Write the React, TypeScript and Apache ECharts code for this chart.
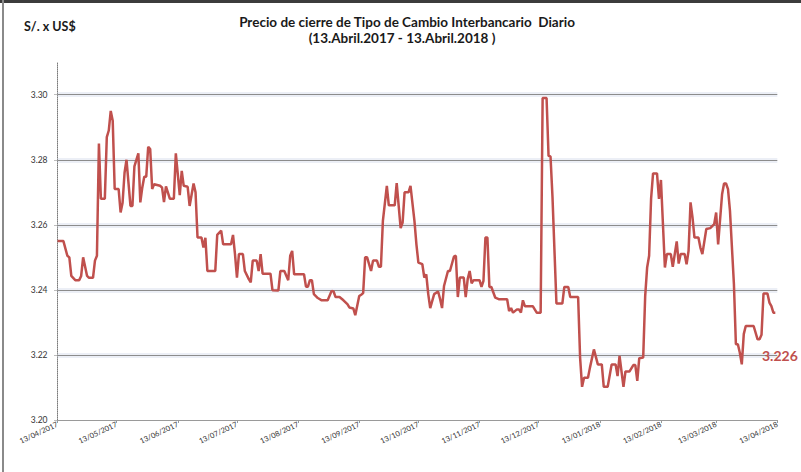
import React, { useEffect, useRef } from "react";
import * as echarts from "echarts";

const dates: string[] = [
  "2017-04-13","2017-04-16","2017-04-18","2017-04-19","2017-04-20","2017-04-22","2017-04-24","2017-04-25","2017-04-26","2017-04-28",
  "2017-04-29","2017-05-01","2017-05-02","2017-05-03","2017-05-04","2017-05-05","2017-05-07","2017-05-08","2017-05-09","2017-05-10",
  "2017-05-11","2017-05-12","2017-05-14","2017-05-15","2017-05-16","2017-05-17","2017-05-18","2017-05-20","2017-05-21","2017-05-22",
  "2017-05-24","2017-05-25","2017-05-26","2017-05-27","2017-05-28","2017-05-29","2017-05-30","2017-05-31","2017-06-01","2017-06-04",
  "2017-06-05","2017-06-06","2017-06-07","2017-06-09","2017-06-11","2017-06-12","2017-06-14","2017-06-15","2017-06-16","2017-06-18",
  "2017-06-19","2017-06-21","2017-06-22","2017-06-23","2017-06-25","2017-06-26","2017-06-27","2017-06-28","2017-07-02","2017-07-03",
  "2017-07-05","2017-07-06","2017-07-10","2017-07-11","2017-07-12","2017-07-13","2017-07-14","2017-07-16","2017-07-17","2017-07-19",
  "2017-07-20","2017-07-21","2017-07-23","2017-07-24","2017-07-25","2017-07-26","2017-07-30","2017-07-31","2017-08-03","2017-08-04",
  "2017-08-06","2017-08-08","2017-08-09","2017-08-10","2017-08-11","2017-08-13","2017-08-16","2017-08-17","2017-08-18","2017-08-19",
  "2017-08-20","2017-08-21","2017-08-23","2017-08-25","2017-08-28","2017-08-30","2017-08-31","2017-09-01","2017-09-03","2017-09-05",
  "2017-09-07","2017-09-08","2017-09-10","2017-09-11","2017-09-13","2017-09-14","2017-09-15","2017-09-16","2017-09-17","2017-09-19",
  "2017-09-20","2017-09-22","2017-09-23","2017-09-24","2017-09-25","2017-09-27","2017-09-28","2017-10-01","2017-10-02","2017-10-04",
  "2017-10-05","2017-10-06","2017-10-08","2017-10-09","2017-10-11","2017-10-12","2017-10-13","2017-10-15","2017-10-16","2017-10-17",
  "2017-10-18","2017-10-19","2017-10-21","2017-10-23","2017-10-24","2017-10-25","2017-10-26","2017-10-28","2017-10-29","2017-10-31",
  "2017-11-01","2017-11-02","2017-11-03","2017-11-05","2017-11-06","2017-11-07","2017-11-08","2017-11-09","2017-11-10","2017-11-13",
  "2017-11-14","2017-11-15","2017-11-16","2017-11-17","2017-11-18","2017-11-19","2017-11-21","2017-11-23","2017-11-27","2017-11-28",
  "2017-11-29","2017-11-30","2017-12-02","2017-12-03","2017-12-04","2017-12-05","2017-12-06","2017-12-10","2017-12-11","2017-12-12",
  "2017-12-14","2017-12-15","2017-12-17","2017-12-18","2017-12-19","2017-12-20","2017-12-22","2017-12-25","2017-12-26","2017-12-28",
  "2017-12-29","2018-01-02","2018-01-03","2018-01-04","2018-01-05","2018-01-07","2018-01-08","2018-01-10","2018-01-12","2018-01-14",
  "2018-01-15","2018-01-17","2018-01-19","2018-01-21","2018-01-22","2018-01-23","2018-01-25","2018-01-26","2018-01-28","2018-01-30",
  "2018-01-31","2018-02-01","2018-02-02","2018-02-04","2018-02-05","2018-02-06","2018-02-07","2018-02-08","2018-02-09","2018-02-11",
  "2018-02-12","2018-02-13","2018-02-15","2018-02-16","2018-02-18","2018-02-19","2018-02-21","2018-02-22","2018-02-23","2018-02-25",
  "2018-02-26","2018-02-27","2018-02-28","2018-03-01","2018-03-02","2018-03-04","2018-03-05","2018-03-06","2018-03-08","2018-03-10",
  "2018-03-12","2018-03-13","2018-03-14","2018-03-16","2018-03-17","2018-03-18","2018-03-19","2018-03-20","2018-03-22","2018-03-23",
  "2018-03-24","2018-03-25","2018-03-26","2018-03-27","2018-03-28","2018-04-01","2018-04-03","2018-04-04","2018-04-05","2018-04-06",
  "2018-04-08","2018-04-09","2018-04-10","2018-04-11","2018-04-12",
];

const values: number[] = [
  3.255,3.255,3.2505,3.250,3.2443,3.243,3.243,3.2443,3.250,3.2443,
  3.2437,3.2437,3.249,3.2505,3.285,3.268,3.268,3.287,3.289,3.295,
  3.292,3.271,3.271,3.2638,3.2668,3.276,3.280,3.2658,3.2658,3.278,
  3.282,3.2669,3.2715,3.2748,3.2748,3.284,3.2833,3.271,3.2725,3.272,
  3.2715,3.267,3.2718,3.268,3.268,3.282,3.2691,3.2766,3.272,3.2717,
  3.2658,3.2727,3.270,3.2561,3.2561,3.253,3.256,3.2458,3.2458,3.2569,
  3.2582,3.254,3.254,3.2569,3.251,3.2438,3.251,3.251,3.2458,3.2433,
  3.2423,3.249,3.249,3.2458,3.251,3.245,3.245,3.2399,3.2398,3.2458,
  3.2458,3.243,3.2505,3.252,3.2448,3.2448,3.2448,3.241,3.241,3.243,
  3.243,3.2387,3.2375,3.2368,3.2368,3.2397,3.2395,3.2378,3.2378,3.2368,
  3.2356,3.2346,3.2343,3.2322,3.2381,3.2385,3.239,3.250,3.250,3.2458,
  3.249,3.249,3.2471,3.2471,3.2612,3.272,3.266,3.266,3.2728,3.259,
  3.2607,3.270,3.270,3.272,3.2612,3.254,3.2484,3.2479,3.2438,3.2448,
  3.2387,3.2344,3.2387,3.2395,3.2372,3.2344,3.2412,3.2458,3.2458,3.2502,
  3.2505,3.2378,3.2438,3.2438,3.2378,3.2433,3.2458,3.242,3.243,3.243,
  3.2409,3.2428,3.2561,3.2561,3.2409,3.2409,3.2376,3.2371,3.2371,3.2335,
  3.2344,3.233,3.234,3.234,3.233,3.2368,3.235,3.235,3.234,3.233,
  3.233,3.299,3.299,3.2812,3.281,3.2686,3.2358,3.2358,3.2409,3.2409,
  3.2378,3.2378,3.2192,3.2102,3.213,3.213,3.2161,3.2217,3.2171,3.2171,
  3.2102,3.2102,3.2171,3.2171,3.2135,3.2197,3.2102,3.2149,3.2149,3.2169,
  3.2169,3.212,3.219,3.2192,3.238,3.2469,3.2505,3.268,3.2758,3.2758,
  3.268,3.2738,3.2469,3.251,3.251,3.2471,3.2549,3.2481,3.251,3.251,
  3.2479,3.252,3.2669,3.2623,3.2561,3.2561,3.253,3.251,3.2587,3.259,
  3.2602,3.2638,3.254,3.2694,3.2727,3.2727,3.271,3.2643,3.2418,3.2233,
  3.2233,3.2207,3.2171,3.2264,3.2289,3.2289,3.2248,3.2248,3.2262,3.2389,
  3.2389,3.2361,3.235,3.233,3.233,
];

const tickDates: string[] = [
  "2017-04-13","2017-05-13","2017-06-13","2017-07-13","2017-08-13","2017-09-13","2017-10-13",
  "2017-11-13","2017-12-13","2018-01-13","2018-02-13","2018-03-13","2018-04-13",
];

const yTicks: number[] = [3.2, 3.22, 3.24, 3.26, 3.28, 3.3];

const titleLine1 = "Precio de cierre de Tipo de Cambio Interbancario  Diario";
const titleLine2 = "(13.Abril.2017 - 13.Abril.2018 )";
const unitLabel = "S/. x US$";
const lastLabel = "3.226";

const toTs = (s: string) => {
  const [y, m, d] = s.split("-").map(Number);
  return Date.UTC(y, m - 1, d);
};
const pad = (n: number) => (n < 10 ? "0" + n : "" + n);

export default function App() {
  const ref = useRef<HTMLDivElement>(null);
  useEffect(() => {
    if (!ref.current) return;
    const chart = echarts.init(ref.current, null, { renderer: "svg" });
    const tickTs = tickDates.map(toTs);
    const font = "Lato, 'Open Sans', sans-serif";
    const gridValues = yTicks.slice(1);
    chart.setOption({
      animation: false,
      backgroundColor: "#ffffff",
      grid: { left: 57.5, right: 23.7, top: 62.2, bottom: 52, containLabel: false },
      xAxis: {
        type: "value",
        min: tickTs[0],
        max: tickTs[tickTs.length - 1],
        axisLine: { show: true, lineStyle: { color: "#9a9a9a", width: 1 } },
        axisTick: { show: true, length: 3, customValues: tickTs, lineStyle: { color: "#9a9a9a" } },
        axisLabel: {
          customValues: tickTs,
          rotate: 25,
          fontSize: 7.5,
          margin: 4,
          color: "#333",
          fontFamily: font,
          hideOverlap: false,
          formatter: (v: number) => {
            const d = new Date(v);
            return pad(d.getUTCDate()) + "/" + pad(d.getUTCMonth() + 1) + "/" + d.getUTCFullYear();
          },
        },
        splitLine: { show: false },
      },
      yAxis: {
        type: "value",
        min: 3.2,
        max: 3.31,
        axisLine: { show: true, lineStyle: { color: "#7a7a7a", type: "dotted", width: 1 } },
        axisTick: { show: true, length: 3, customValues: yTicks, lineStyle: { color: "#7a7a7a", type: "dotted" } },
        axisLabel: {
          customValues: yTicks,
          fontSize: 8.5,
          color: "#333",
          margin: 10,
          fontFamily: font,
          formatter: (v: number) => v.toFixed(2),
        },
        splitLine: { show: false },
      },
      series: [
        {
          type: "line",
          data: [],
          silent: true,
          z: 1,
          markLine: {
            silent: true,
            symbol: "none",
            z: 1,
            label: { show: false },
            lineStyle: { color: "rgba(208,216,232,0.4)", width: 5, type: "solid" },
            data: gridValues.map((v) => ({ yAxis: v })),
          },
        },
        {
          type: "line",
          data: [],
          silent: true,
          z: 1,
          markLine: {
            silent: true,
            symbol: "none",
            z: 1,
            label: { show: false },
            lineStyle: { color: "#8c8c8c", width: 1, type: "solid" },
            data: gridValues.map((v) => ({ yAxis: v })),
          },
        },
        {
          type: "line",
          z: 10,
          data: dates.map((d, i) => [toTs(d), values[i]]),
          showSymbol: false,
          symbol: "none",
          lineStyle: { color: "#C0504D", width: 2.5 },
          itemStyle: { color: "#C0504D" },
        },
      ],
      graphic: [
        { type: "rect", shape: { x: 0, y: 0, width: 801, height: 3 }, style: { fill: "#3c3c3c" } },
        { type: "rect", shape: { x: 2, y: 0, width: 2, height: 472 }, style: { fill: "#8a8a8a" } },
        {
          type: "text",
          x: 24,
          y: 20,
          style: { text: unitLabel, font: `bold 12.5px ${font}`, fill: "#1a1a1a" },
        },
        {
          type: "text",
          x: 407,
          y: 15,
          style: { text: titleLine1, font: `bold 13.5px ${font}`, fill: "#1a1a1a", textAlign: "center" },
        },
        {
          type: "text",
          x: 402,
          y: 31,
          style: { text: titleLine2, font: `bold 13.5px ${font}`, fill: "#1a1a1a", textAlign: "center" },
        },
        {
          type: "text",
          x: 762,
          y: 348,
          z: 20,
          style: { text: lastLabel, font: `bold 14px ${font}`, fill: "#C0504D" },
        },
      ],
    });
    return () => chart.dispose();
  }, []);
  return (
    <div
      ref={ref}
      style={{ position: "fixed", left: 0, top: 0, width: 801, height: 472, background: "#fff" }}
    />
  );
}
